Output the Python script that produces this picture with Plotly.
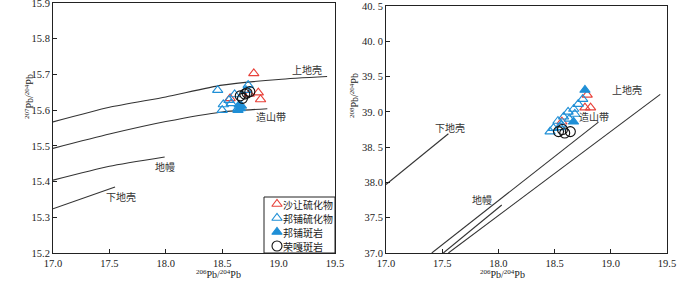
import plotly.graph_objects as go

# ---------------- data ----------------
# Left panel: 207Pb/204Pb vs 206Pb/204Pb
L_shr_x = [18.78, 18.82, 18.84, 18.57, 18.74]
L_shr_y = [15.703, 15.649, 15.630, 15.633, 15.645]
L_bps_x = [18.46, 18.73, 18.51, 18.50, 18.58, 18.61, 18.64, 18.71, 18.56]
L_bps_y = [15.656, 15.670, 15.616, 15.600, 15.619, 15.644, 15.605, 15.656, 15.628]
L_bpp_x = [18.65, 18.66, 18.64, 18.67]
L_bpp_y = [15.615, 15.605, 15.600, 15.612]
L_rg_x = [18.66, 18.70, 18.72, 18.745, 18.68]
L_rg_y = [15.640, 15.645, 15.648, 15.652, 15.633]

L_uc_x = [17.0, 17.5, 18.0, 18.5, 19.0, 19.43]
L_uc_y = [15.567, 15.608, 15.637, 15.670, 15.686, 15.694]
L_or_x = [17.0, 17.5, 18.0, 18.5, 18.9]
L_or_y = [15.493, 15.533, 15.568, 15.595, 15.604]
L_ma_x = [17.0, 17.5, 17.99]
L_ma_y = [15.404, 15.443, 15.469]
L_lc_x = [17.0, 17.55]
L_lc_y = [15.324, 15.385]

# Right panel: 208Pb/204Pb vs 206Pb/204Pb
R_shr_x = [18.79, 18.77, 18.82, 18.565]
R_shr_y = [39.24, 39.06, 39.06, 38.86]
R_bps_x = [18.75, 18.71, 18.67, 18.62, 18.68, 18.58, 18.63, 18.53, 18.56, 18.49, 18.46, 18.55]
R_bps_y = [39.18, 39.11, 39.04, 39.00, 38.97, 38.93, 38.90, 38.87, 38.82, 38.77, 38.72, 38.78]
R_bpp_x = [18.77, 18.668]
R_bpp_y = [39.31, 38.86]
R_rg_x = [18.535, 18.59, 18.64, 18.57]
R_rg_y = [38.72, 38.70, 38.72, 38.75]

R_lc_x = [17.0, 17.555]
R_lc_y = [37.97, 38.69]
R_or_x = [17.407, 18.89]
R_or_y = [37.0, 38.855]
R_ma_x = [17.51, 18.03]
R_ma_y = [37.0, 37.68]
R_uc_x = [17.555, 19.44]
R_uc_y = [37.0, 39.247]

series_names = ["沙让硫化物", "邦铺硫化物", "邦铺斑岩", "荣嘎斑岩"]

left_labels = [("上地壳", 19.25, 15.714), ("造山带", 18.93, 15.583),
               ("地幔", 17.99, 15.443), ("下地壳", 17.6, 15.357)]
right_labels = [("上地壳", 19.14, 39.31), ("造山带", 18.85, 38.93),
                ("地幔", 17.85, 37.76), ("下地壳", 17.57, 38.78)]

x_ticks = [17.0, 17.5, 18.0, 18.5, 19.0, 19.5]
L_yticks = [15.2, 15.3, 15.4, 15.5, 15.6, 15.7, 15.8, 15.9]
R_yticks = [37.0, 37.5, 38.0, 38.5, 39.0, 39.5, 40.0, 40.5]
R_yticktext = ["37.0", "37.5", "38.0", "38. 5", "39. 0", "39. 5", "40. 0", "40. 5"]

# ---------------- styling ----------------
RED = "#e8413a"
BLUE = "#1f8fd6"
LINE = "#333333"
SERIF = "Liberation Serif, Noto Sans CJK SC, serif"
CJK = "Noto Sans CJK SC, Liberation Serif, serif"
W, H = 700, 282

fig = go.Figure()

def add_line(x, y, xa, ya):
    fig.add_trace(go.Scatter(x=x, y=y, mode="lines",
                             line=dict(color=LINE, width=1.1, shape="spline", smoothing=0.6),
                             showlegend=False, hoverinfo="skip", xaxis=xa, yaxis=ya))

for xs, ys in [(L_uc_x, L_uc_y), (L_or_x, L_or_y), (L_ma_x, L_ma_y), (L_lc_x, L_lc_y)]:
    add_line(xs, ys, "x", "y")
for xs, ys in [(R_lc_x, R_lc_y), (R_or_x, R_or_y), (R_ma_x, R_ma_y), (R_uc_x, R_uc_y)]:
    add_line(xs, ys, "x2", "y2")

styles = [("triangle-up-open", RED, 9), ("triangle-up-open", BLUE, 9),
          ("triangle-up", BLUE, 9), ("circle-open", "#111111", 10)]
data_sets = [(L_shr_x, L_shr_y, R_shr_x, R_shr_y), (L_bps_x, L_bps_y, R_bps_x, R_bps_y),
             (L_bpp_x, L_bpp_y, R_bpp_x, R_bpp_y), (L_rg_x, L_rg_y, R_rg_x, R_rg_y)]

for (sym, col, sz), (xl, yl, xr, yr), name in zip(styles, data_sets, series_names):
    mk = dict(symbol=sym, color=col, size=sz, line=dict(color=col, width=1.1))
    fig.add_trace(go.Scatter(x=xl, y=yl, mode="markers", marker=mk, name=name,
                             showlegend=False, xaxis="x", yaxis="y"))
    fig.add_trace(go.Scatter(x=xr, y=yr, mode="markers", marker=mk, name=name,
                             showlegend=False, xaxis="x2", yaxis="y2"))

# ---- manual legend (box in left panel, lower-right corner) ----
LG_X0, LG_X1, LG_Y0, LG_Y1 = 264, 335, 197, 253   # pixels from top-left
fig.add_shape(type="rect", xref="paper", yref="paper",
              x0=LG_X0 / W, x1=LG_X1 / W, y0=1 - LG_Y1 / H, y1=1 - LG_Y0 / H,
              line=dict(color="#222", width=1), fillcolor="rgba(0,0,0,0)", layer="above")
n = len(series_names)
row_h = (LG_Y1 - LG_Y0) / n
for i, ((sym, col, sz), name) in enumerate(zip(styles, series_names)):
    # legend key on a hidden axis that spans the legend box
    fig.add_trace(go.Scatter(x=[0.5], y=[n - i - 0.5], mode="markers",
                             marker=dict(symbol=sym, color=col, size=sz, line=dict(color=col, width=1.1)),
                             showlegend=False, hoverinfo="skip", xaxis="x3", yaxis="y3"))
    fig.add_annotation(x=(LG_X0 + 17) / W, y=1 - (LG_Y0 + row_h * (i + 0.5)) / H,
                       xref="paper", yref="paper", xanchor="left", yanchor="middle",
                       text=name, showarrow=False, font=dict(family=CJK, size=10, color="#222"))

for txt, xv, yv in left_labels:
    fig.add_annotation(x=xv, y=yv, xref="x", yref="y", text=txt, showarrow=False,
                       font=dict(family=CJK, size=10, color="#333"))
for txt, xv, yv in right_labels:
    fig.add_annotation(x=xv, y=yv, xref="x2", yref="y2", text=txt, showarrow=False,
                       font=dict(family=CJK, size=10, color="#333"))

# axis titles
for cx in [(53 + 335) / 2, (386 + 667) / 2]:
    fig.add_annotation(x=cx / W, y=0, xref="paper", yref="paper", yanchor="bottom",
                       text="<sup>206</sup>Pb/<sup>204</sup>Pb", showarrow=False,
                       font=dict(family=SERIF, size=10, color="#222"))
fig.add_annotation(x=21 / W, y=1 - 97 / H, xref="paper", yref="paper", textangle=-90,
                   text="<sup>207</sup>Pb/<sup>204</sup>Pb", showarrow=False,
                   font=dict(family=SERIF, size=10, color="#222"))
fig.add_annotation(x=354 / W, y=1 - 95 / H, xref="paper", yref="paper", textangle=-90,
                   text="<sup>208</sup>Pb/<sup>204</sup>Pb", showarrow=False,
                   font=dict(family=SERIF, size=10, color="#222"))

axis_common = dict(showgrid=False, zeroline=False, showline=True, linecolor="#222", linewidth=1,
                   mirror=True, ticks="inside", ticklen=4, tickcolor="#222", automargin=False,
                   ticklabeloverflow="allow",
                   tickfont=dict(family=SERIF, size=10.5, color="#222"))

fig.update_layout(
    width=W, height=H,
    margin=dict(l=0, r=0, t=0, b=0, pad=0),
    paper_bgcolor="white", plot_bgcolor="white",
    xaxis=dict(domain=[53 / W, 335 / W], range=[17.0, 19.5], tickvals=x_ticks,
               ticktext=[f"{v:.1f}" for v in x_ticks], anchor="y", **axis_common),
    yaxis=dict(domain=[(H - 253) / H, (H - 3) / H], range=[15.2, 15.9], tickvals=L_yticks,
               ticktext=[f"{v:.1f}" for v in L_yticks], anchor="x", **axis_common),
    xaxis2=dict(domain=[386 / W, 667 / W], range=[17.0, 19.5], tickvals=x_ticks,
                ticktext=[f"{v:.1f}" for v in x_ticks], anchor="y2", **axis_common),
    yaxis2=dict(domain=[(H - 253) / H, (H - 6) / H], range=[37.0, 40.5], tickvals=R_yticks,
                ticktext=R_yticktext, anchor="x2", **axis_common),
    xaxis3=dict(domain=[LG_X0 / W, (LG_X0 + 26) / W], range=[0, 1], visible=False, fixedrange=True,
                anchor="y3", automargin=False),
    yaxis3=dict(domain=[1 - LG_Y1 / H, 1 - LG_Y0 / H], range=[0, n], visible=False, fixedrange=True,
                anchor="x3", automargin=False),
    showlegend=False,
)

fig.write_html("out.html", config={"displayModeBar": False},
               post_script="document.body.style.margin='0';document.body.style.overflow='hidden';")
